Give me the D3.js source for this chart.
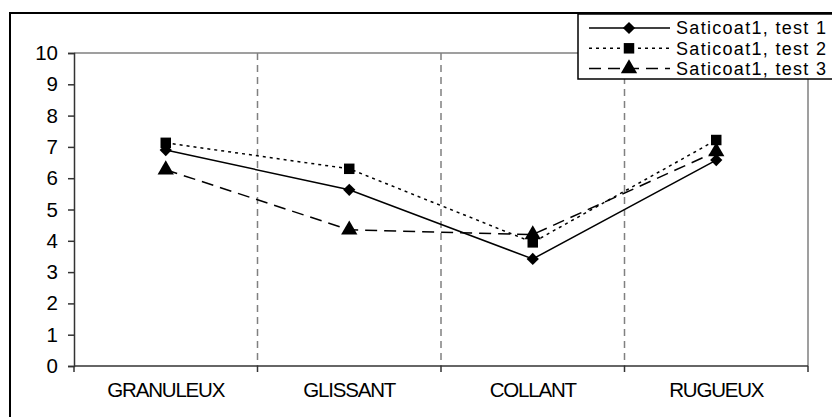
<!DOCTYPE html>
<html>
<head>
<meta charset="utf-8">
<script src="https://cdn.jsdelivr.net/npm/d3@7"></script>
<style>
  body { margin: 0; background: #fff; }
  svg text { font-family: "Liberation Sans", Arial, sans-serif; }
</style>
</head>
<body>
<div id="chart"></div>
<script>

// Categories and series values.
var categories = ['GRANULEUX', 'GLISSANT', 'COLLANT', 'RUGUEUX'];
var seriesNames = ['Saticoat1, test 1', 'Saticoat1, test 2', 'Saticoat1, test 3'];
var test1 = [6.9, 5.63, 3.42, 6.58];
var test2 = [7.13, 6.3, 3.95, 7.22];
var test3 = [6.27, 4.35, 4.2, 6.85];
var yTicks = [0, 1, 2, 3, 4, 5, 6, 7, 8, 9, 10];

var width = 832,
  height = 417;

var margin = { top: 53, right: 24, bottom: 51, left: 74 };

var svg = d3.select('#chart')
  .append('svg')
  .attr('width', width)
  .attr('height', height);

// Outer chart frame (runs off the right and bottom of the picture).
svg.append('rect')
  .attr('x', 10)
  .attr('y', 13)
  .attr('width', width + 20)
  .attr('height', height + 20)
  .attr('fill', 'none')
  .attr('stroke', '#000')
  .attr('stroke-width', 2);

var w = width - margin.left - margin.right,
  h = height - margin.top - margin.bottom;

var g = svg.append('g')
  .attr('transform', 'translate(' + margin.left + ',' + margin.top + ')');

// Scales.
var xScale = d3.scaleBand()
  .domain(categories)
  .range([0, w]);

var yScale = d3.scaleLinear()
  .domain([0, 10])
  .range([h, 0]);

// Plot border (top and right in grey).
g.append('path')
  .attr('d', 'M0,0H' + w + 'V' + h)
  .attr('fill', 'none')
  .attr('stroke', '#808080')
  .attr('stroke-width', 1.5);

// Dashed category dividers.
g.selectAll('.divider')
  .data(categories.slice(1))
  .enter()
  .append('line')
  .attr('class', 'divider')
  .attr('x1', function(d) { return xScale(d); })
  .attr('x2', function(d) { return xScale(d); })
  .attr('y1', 0)
  .attr('y2', h)
  .attr('stroke', '#808080')
  .attr('stroke-width', 1.5)
  .attr('stroke-dasharray', '7,5');

// Y axis.
var yAxis = g.append('g')
  .call(d3.axisLeft(yScale).tickValues(yTicks).tickSize(6).tickPadding(10));

yAxis.select('.domain').attr('stroke', '#333').attr('stroke-width', 1.5);
yAxis.selectAll('.tick line').attr('stroke', '#333').attr('stroke-width', 1.5);
yAxis.selectAll('text')
  .attr('font-size', 20.5)
  .attr('fill', '#000')
  .style('font-family', '"Liberation Sans", Arial, sans-serif');

// X axis: ticks at the category boundaries.
var xAxis = g.append('g')
  .attr('transform', 'translate(0,' + h + ')');

xAxis.append('line')
  .attr('x1', 0)
  .attr('x2', w)
  .attr('stroke', '#333')
  .attr('stroke-width', 1.5);

xAxis.selectAll('.xtick')
  .data(categories.concat(['end']))
  .enter()
  .append('line')
  .attr('class', 'xtick')
  .attr('x1', function(d, i) { return i * xScale.bandwidth(); })
  .attr('x2', function(d, i) { return i * xScale.bandwidth(); })
  .attr('y1', 0)
  .attr('y2', 6)
  .attr('stroke', '#333')
  .attr('stroke-width', 1.5);

xAxis.selectAll('.xlabel')
  .data(categories)
  .enter()
  .append('text')
  .attr('class', 'xlabel')
  .attr('x', function(d) { return xScale(d) + xScale.bandwidth() / 2; })
  .attr('y', 24)
  .attr('dy', '0.35em')
  .attr('text-anchor', 'middle')
  .attr('font-size', 20.5)
  .attr('letter-spacing', -1.2)
  .text(function(d) { return d; });

// Series.
var diamond = {
  draw: function(context, size) {
    var r = Math.sqrt(size) / 2;
    context.moveTo(0, -r);
    context.lineTo(r, 0);
    context.lineTo(0, r);
    context.lineTo(-r, 0);
    context.closePath();
  }
};

var series = [
  { name: seriesNames[0], values: test1, dash: null, symbol: diamond, size: 150 },
  { name: seriesNames[1], values: test2, dash: '3,4', symbol: d3.symbolSquare, size: 110 },
  { name: seriesNames[2], values: test3, dash: '12,7', symbol: d3.symbolTriangle, size: 115 }
];

var line = d3.line()
  .x(function(d, i) { return xScale(categories[i]) + xScale.bandwidth() / 2; })
  .y(function(d) { return yScale(d); });

series.forEach(function(s) {
  g.append('path')
    .datum(s.values)
    .attr('d', line)
    .attr('fill', 'none')
    .attr('stroke', '#000')
    .attr('stroke-width', 1.5)
    .attr('stroke-dasharray', s.dash);

  g.selectAll(null)
    .data(s.values)
    .enter()
    .append('path')
    .attr('transform', function(d, i) {
      return 'translate(' + (xScale(categories[i]) + xScale.bandwidth() / 2) + ',' + yScale(d) + ')';
    })
    .attr('d', d3.symbol().type(s.symbol).size(s.size))
    .attr('fill', '#000');
});

// Legend.
var legend = svg.append('g');

legend.append('rect')
  .attr('x', 578)
  .attr('y', 14)
  .attr('width', 270)
  .attr('height', 65)
  .attr('fill', '#fff')
  .attr('stroke', '#000')
  .attr('stroke-width', 1.5);

var rows = legend.selectAll('.row')
  .data(series)
  .enter()
  .append('g')
  .attr('transform', function(d, i) { return 'translate(0,' + (28 + i * 20.3) + ')'; });

rows.append('line')
  .attr('x1', 589)
  .attr('x2', 670)
  .attr('stroke', '#000')
  .attr('stroke-width', 1.5)
  .attr('stroke-dasharray', function(d) { return d.dash; });

rows.append('path')
  .attr('transform', 'translate(629,0)')
  .attr('d', function(d) { return d3.symbol().type(d.symbol).size(d.size)(); })
  .attr('fill', '#000');

rows.append('text')
  .attr('x', 676)
  .attr('dy', '0.35em')
  .attr('font-size', 18)
  .attr('textLength', 150)
  .attr('lengthAdjust', 'spacing')
  .text(function(d) { return d.name; });

</script>
</body>
</html>
